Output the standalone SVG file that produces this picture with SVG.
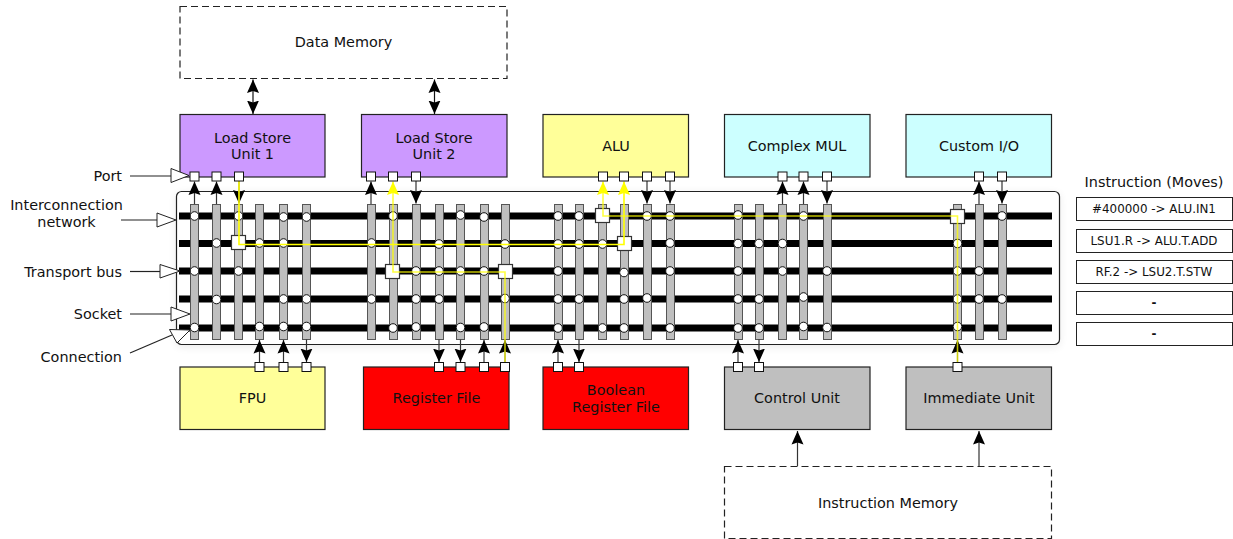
<svg xmlns="http://www.w3.org/2000/svg" xmlns:xlink="http://www.w3.org/1999/xlink" width="1233" height="539" viewBox="0 0 1233 539">
<style>
text{font-family:"DejaVu Sans",sans-serif;font-size:14.4px;fill:#111;text-anchor:middle}
.r{text-anchor:end}
.i{font-size:11.9px}
.b{stroke:#222;stroke-width:1.2}
.d{fill:#fff;stroke:#222;stroke-width:1.2;stroke-dasharray:7 4}
.bus{fill:#000}
.s{fill:#bfbfbf;stroke:#555;stroke-width:1}
.c{fill:#fff;stroke:#111;stroke-width:1}
.big{fill:#fff;stroke:#333;stroke-width:1.2}
.p{fill:#fff;stroke:#111;stroke-width:1}
.l{stroke:#222;stroke-width:1.2;fill:none}
.a{stroke:#333;stroke-width:1.2;fill:none;marker-end:url(#h)}
.aa{stroke:#111;stroke-width:1.2;fill:none;marker-end:url(#h);marker-start:url(#hs)}
.y{stroke:#ffff00;stroke-width:1.6;fill:none;marker-end:url(#yh)}
.t{fill:#fff;stroke:#222;stroke-width:1}
</style>
<defs>
<marker id="h" markerUnits="userSpaceOnUse" markerWidth="15" markerHeight="14" refX="13.500" refY="6.500" orient="auto"><path d="M0 .5L13.500 6.500L0 12.500L2 6.500Z" fill="#000"/></marker>
<marker id="hs" markerUnits="userSpaceOnUse" markerWidth="15" markerHeight="14" refX="1" refY="6.500" orient="auto"><path d="M14.500 .5L1 6.500L14.500 12.500L12.500 6.500Z" fill="#000"/></marker>
<marker id="yh" markerUnits="userSpaceOnUse" markerWidth="15" markerHeight="14" refX="13.500" refY="6.500" orient="auto"><path d="M0 .5L13.500 6.500L0 12.500L2 6.500Z" fill="#ffff00"/></marker>
<filter id="sh" x="-2%" y="-10%" width="104%" height="120%"><feGaussianBlur stdDeviation="4"/></filter>
<circle id="o" r="4.300" class="c"/>
</defs>

<g id="network">
<rect x="176" y="193" width="884" height="154" rx="5" fill="#000" opacity=".08" filter="url(#sh)"/>
<rect x="176.500" y="191.500" width="883" height="153" rx="5" fill="#fff" stroke="#222" stroke-width="1.2"/>
</g>

<g id="buses">
<rect class="bus" x="179" y="212.500" width="873" height="7"/>
<rect class="bus" x="179" y="240" width="873" height="7"/>
<rect class="bus" x="179" y="267.500" width="873" height="7"/>
<rect class="bus" x="179" y="295.500" width="873" height="7"/>
<rect class="bus" x="179" y="324.500" width="873" height="7"/>
</g>

<g id="sockets">
<g id="sockets-1">
<rect class="s" x="190.500" y="204.500" width="8" height="135"/><rect class="s" x="212.500" y="204.500" width="8" height="135"/><rect class="s" x="234.500" y="204.500" width="8" height="135"/><rect class="s" x="255.500" y="204.500" width="8" height="135"/><rect class="s" x="279.500" y="204.500" width="8" height="135"/><rect class="s" x="302.500" y="204.500" width="8" height="135"/>
</g>
<g id="sockets-2">
<rect class="s" x="367.500" y="204.500" width="8" height="135"/><rect class="s" x="389.500" y="204.500" width="8" height="135"/><rect class="s" x="412.500" y="204.500" width="8" height="135"/><rect class="s" x="435.500" y="204.500" width="8" height="135"/><rect class="s" x="456.500" y="204.500" width="8" height="135"/><rect class="s" x="480.500" y="204.500" width="8" height="135"/><rect class="s" x="501.500" y="204.500" width="8" height="135"/>
</g>
<g id="sockets-3">
<rect class="s" x="554.500" y="204.500" width="8" height="135"/><rect class="s" x="575.500" y="204.500" width="8" height="135"/><rect class="s" x="598.500" y="204.500" width="8" height="135"/><rect class="s" x="620.500" y="204.500" width="8" height="135"/><rect class="s" x="643.500" y="204.500" width="8" height="135"/><rect class="s" x="666.500" y="204.500" width="8" height="135"/>
</g>
<g id="sockets-4">
<rect class="s" x="734.500" y="204.500" width="8" height="135"/><rect class="s" x="755.500" y="204.500" width="8" height="135"/><rect class="s" x="778.500" y="204.500" width="8" height="135"/><rect class="s" x="799.500" y="204.500" width="8" height="135"/><rect class="s" x="823.500" y="204.500" width="8" height="135"/>
</g>
<g id="sockets-5">
<rect class="s" x="953.500" y="204.500" width="8" height="135"/><rect class="s" x="975.500" y="204.500" width="8" height="135"/><rect class="s" x="998.500" y="204.500" width="8" height="135"/>
</g>
</g>

<g id="connections">
<use href="#o" x="194.500" y="216"/><use href="#o" x="194.500" y="271"/><use href="#o" x="194.500" y="327.500"/>
<use href="#o" x="216.500" y="243"/><use href="#o" x="216.500" y="299.500"/>
<use href="#o" x="238.500" y="216"/><use href="#o" x="238.500" y="271"/>
<use href="#o" x="259.500" y="243"/><use href="#o" x="259.500" y="326.500"/>
<use href="#o" x="283.500" y="217"/><use href="#o" x="283.500" y="243"/><use href="#o" x="283.500" y="299"/><use href="#o" x="283.500" y="326.500"/>
<use href="#o" x="306.500" y="217"/><use href="#o" x="306.500" y="299"/><use href="#o" x="306.500" y="326.500"/>
<use href="#o" x="371.500" y="243"/><use href="#o" x="371.500" y="299"/>
<use href="#o" x="393" y="216"/><use href="#o" x="393" y="328"/>
<use href="#o" x="416" y="271"/><use href="#o" x="416" y="299"/><use href="#o" x="416" y="327"/>
<use href="#o" x="439" y="244"/><use href="#o" x="439" y="271"/><use href="#o" x="439" y="299"/>
<use href="#o" x="460.500" y="215"/><use href="#o" x="460.500" y="271"/><use href="#o" x="460.500" y="327.500"/>
<use href="#o" x="484" y="217"/><use href="#o" x="484" y="271"/><use href="#o" x="484" y="327"/>
<use href="#o" x="505" y="244"/><use href="#o" x="505" y="298.500"/>
<use href="#o" x="558" y="216"/><use href="#o" x="558" y="244"/><use href="#o" x="558" y="271"/><use href="#o" x="558" y="299"/><use href="#o" x="558" y="328"/>
<use href="#o" x="579" y="216"/><use href="#o" x="579" y="244"/><use href="#o" x="579" y="299"/>
<use href="#o" x="602.500" y="244"/><use href="#o" x="602.500" y="328"/>
<use href="#o" x="624" y="272.500"/><use href="#o" x="624" y="299"/><use href="#o" x="624" y="328"/>
<use href="#o" x="647" y="216"/><use href="#o" x="647" y="298"/>
<use href="#o" x="670" y="216"/><use href="#o" x="670" y="243"/><use href="#o" x="670" y="271"/><use href="#o" x="670" y="328"/>
<use href="#o" x="738" y="215"/><use href="#o" x="738" y="243.500"/><use href="#o" x="738" y="271"/><use href="#o" x="738" y="299"/><use href="#o" x="738" y="328"/>
<use href="#o" x="759" y="243.500"/><use href="#o" x="759" y="299"/><use href="#o" x="759" y="328"/>
<use href="#o" x="782.500" y="243.500"/><use href="#o" x="782.500" y="271"/>
<use href="#o" x="803.500" y="216"/><use href="#o" x="803.500" y="297"/><use href="#o" x="803.500" y="326.500"/>
<use href="#o" x="827" y="271"/><use href="#o" x="827" y="327.500"/>
<use href="#o" x="957.500" y="243.500"/><use href="#o" x="957.500" y="271"/><use href="#o" x="957.500" y="299"/><use href="#o" x="957.500" y="326.500"/>
<use href="#o" x="979" y="271"/><use href="#o" x="979" y="299"/>
<use href="#o" x="1002" y="216"/><use href="#o" x="1002" y="299"/>
</g>

<g id="switches">
<rect class="big" x="231.500" y="235.500" width="14" height="14"/>
<rect class="big" x="385.500" y="264.500" width="14" height="14"/>
<rect class="big" x="498.500" y="264.500" width="14" height="14"/>
<rect class="big" x="595.500" y="208.500" width="14" height="14"/>
<rect class="big" x="617.500" y="236.500" width="14" height="14"/>
<rect class="big" x="950.500" y="209.500" width="14" height="14"/>
</g>

<g id="load-store-1"><rect class="b" x="180" y="114.500" width="145" height="62.500" fill="#cc99ff"/><text x="252.500" y="143">Load Store</text><text x="252.500" y="159">Unit 1</text></g>
<g id="load-store-2"><rect class="b" x="361.500" y="114.500" width="145.500" height="62.500" fill="#cc99ff"/><text x="434" y="143">Load Store</text><text x="434" y="159">Unit 2</text></g>
<g id="alu"><rect class="b" x="543" y="114.500" width="145.500" height="62.500" fill="#ffff99"/><text x="616" y="151">ALU</text></g>
<g id="complex-mul"><rect class="b" x="724.500" y="114.500" width="145.500" height="62.500" fill="#ccffff"/><text x="797" y="151">Complex MUL</text></g>
<g id="custom-io"><rect class="b" x="906" y="114.500" width="145.500" height="62.500" fill="#ccffff"/><text x="979" y="151">Custom I/O</text></g>
<g id="fpu"><rect class="b" x="180" y="367" width="145" height="62.500" fill="#ffff99"/><text x="252.500" y="403">FPU</text></g>
<g id="register-file"><rect class="b" x="363.500" y="367" width="145.500" height="62.500" fill="#ff0000"/><text x="436.500" y="403">Register File</text></g>
<g id="boolean-register-file"><rect class="b" x="543" y="367" width="145.500" height="62.500" fill="#ff0000"/><text x="616" y="395">Boolean</text><text x="616" y="412">Register File</text></g>
<g id="control-unit"><rect class="b" x="724.500" y="367" width="145.500" height="62.500" fill="#bfbfbf"/><text x="797" y="403">Control Unit</text></g>
<g id="immediate-unit"><rect class="b" x="906" y="367" width="145.500" height="62.500" fill="#bfbfbf"/><text x="979" y="403">Immediate Unit</text></g>
<g id="data-memory"><rect class="d" x="180" y="6.500" width="327" height="72"/><text x="343.500" y="47">Data Memory</text></g>
<g id="instruction-memory"><rect class="d" x="724.500" y="466.500" width="327" height="72"/><text x="888" y="508">Instruction Memory</text></g>

<g id="connectors">
<path class="aa" d="M253 79.500V114"/>
<path class="aa" d="M434.500 79.500V114"/>
<path class="a" d="M797.500 466V431"/>
<path class="a" d="M979 466V431"/>

<path class="a" d="M194.500 204V181.500"/><path class="a" d="M216.500 204V181.500"/><path class="a" d="M239 181V203.500"/>
<path class="a" d="M371 204V181.500"/><path class="a" d="M416 181V203.500"/>
<path class="a" d="M647 181V203.500"/><path class="a" d="M670 181V203.500"/>
<path class="a" d="M782.500 204V181.500"/><path class="a" d="M803.500 204V181.500"/><path class="a" d="M827 181V203.500"/>
<path class="a" d="M979 204V181.500"/><path class="a" d="M1002 181V203.500"/>
<path class="a" d="M259.500 362V340"/><path class="a" d="M283.500 362V340"/><path class="a" d="M306.500 339.500V362"/>
<path class="a" d="M439 339.500V362"/><path class="a" d="M460.500 339.500V362"/><path class="a" d="M484 362V340"/><path class="a" d="M505 362V340"/>
<path class="a" d="M558 362V340"/><path class="a" d="M579 339.500V362"/>
<path class="a" d="M738 362V340"/><path class="a" d="M759 339.500V362"/><path class="a" d="M957.500 362V340"/>

<path class="y" d="M239 181V244.500H624V181.500"/>
<path class="y" stroke-opacity=".75" d="M505 362V272H393V181.500"/>
<path class="y" stroke-opacity=".75" d="M957.500 362V216H603V181.500"/>
</g>

<g id="ports">
<rect class="p" x="190" y="172" width="9" height="9"/><rect class="p" x="212" y="172" width="9" height="9"/><rect class="p" x="234.500" y="172" width="9" height="9"/>
<rect class="p" x="366.500" y="172" width="9" height="9"/><rect class="p" x="388.500" y="172" width="9" height="9"/><rect class="p" x="411.500" y="172" width="9" height="9"/>
<rect class="p" x="598.500" y="172" width="9" height="9"/><rect class="p" x="619.500" y="172" width="9" height="9"/><rect class="p" x="642.500" y="172" width="9" height="9"/><rect class="p" x="665.500" y="172" width="9" height="9"/>
<rect class="p" x="778" y="172" width="9" height="9"/><rect class="p" x="799" y="172" width="9" height="9"/><rect class="p" x="822.500" y="172" width="9" height="9"/>
<rect class="p" x="974.500" y="172" width="9" height="9"/><rect class="p" x="997.500" y="172" width="9" height="9"/>
<rect class="p" x="255" y="362.500" width="9" height="9"/><rect class="p" x="279" y="362.500" width="9" height="9"/><rect class="p" x="302" y="362.500" width="9" height="9"/>
<rect class="p" x="434.500" y="362.500" width="9" height="9"/><rect class="p" x="456" y="362.500" width="9" height="9"/><rect class="p" x="479.500" y="362.500" width="9" height="9"/><rect class="p" x="500.500" y="362.500" width="9" height="9"/>
<rect class="p" x="553.500" y="362.500" width="9" height="9"/><rect class="p" x="574.500" y="362.500" width="9" height="9"/>
<rect class="p" x="733.500" y="362.500" width="9" height="9"/><rect class="p" x="754.500" y="362.500" width="9" height="9"/><rect class="p" x="953" y="362.500" width="9" height="9"/>
</g>

<g id="callouts">
<path class="l" d="M130 176H171"/><path class="t" d="M171 168.500V182.500L189 175.500Z"/><text class="r" x="122" y="181">Port</text>
<path class="l" d="M121 220H157"/><path class="t" d="M157 213V227L176 220Z"/><text x="66.500" y="210">Interconnection</text><text x="66.500" y="227">network</text>
<path class="l" d="M130 271.500H160"/><path class="t" d="M160 264.500V278L180 271Z"/><text class="r" x="122" y="277">Transport bus</text>
<path class="l" d="M130 314H171"/><path class="t" d="M171 307V321L190 314Z"/><text class="r" x="122" y="319">Socket</text>
<path class="l" d="M130 353L172 335"/><path class="t" d="M169.500 329.500L177 343L190 330Z"/><text class="r" x="122" y="362">Connection</text>
</g>

<g id="instruction">
<text x="1154" y="187">Instruction (Moves)</text>
<rect class="t" x="1076.500" y="197.500" width="156" height="23"/><text class="i" x="1154" y="213">#400000 -&gt; ALU.IN1</text>
<rect class="t" x="1076.500" y="229.500" width="156" height="23"/><text class="i" x="1154" y="245">LSU1.R -&gt; ALU.T.ADD</text>
<rect class="t" x="1076.500" y="260.500" width="156" height="23"/><text class="i" x="1154" y="276">RF.2 -&gt; LSU2.T.STW</text>
<rect class="t" x="1076.500" y="291.500" width="156" height="23"/><text class="i" x="1154" y="307" font-weight="bold">-</text>
<rect class="t" x="1076.500" y="322.500" width="156" height="23"/><text class="i" x="1154" y="338" font-weight="bold">-</text>
</g>
</svg>
